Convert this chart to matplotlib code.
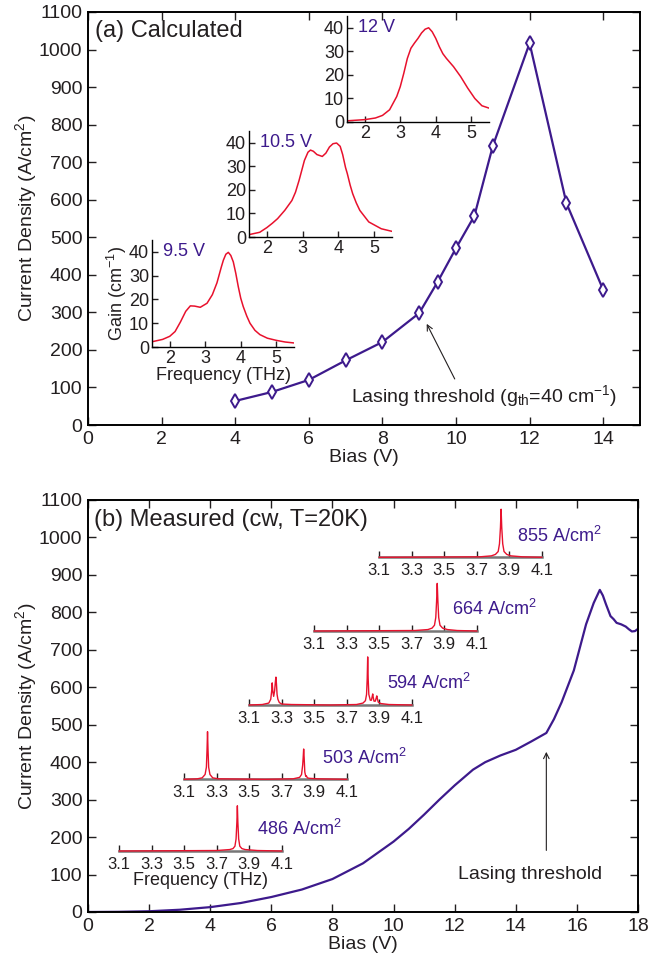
import numpy as np
import matplotlib
matplotlib.use("Agg")
from matplotlib import pyplot as plt

plt.rcParams['font.family'] = ['Liberation Sans', 'DejaVu Sans']
plt.rcParams['mathtext.default'] = 'regular'
plt.rcParams['text.color'] = '#231f20'
plt.rcParams['axes.labelcolor'] = '#231f20'
plt.rcParams['xtick.color'] = '#231f20'
plt.rcParams['ytick.color'] = '#231f20'

PURPLE = '#3d1a8c'
RED = '#e8112d'

# ---------- (a) calculated ----------
calc_bias = [4, 5, 6, 7, 8, 9, 9.5, 10, 10.5, 11, 12, 13, 14]
calc_J = [64, 88, 120, 172, 221, 298, 381, 471, 557, 743, 1017, 591, 360]

# gain spectra (THz, cm^-1)
g95_f = [1.5, 1.8, 2.0, 2.15, 2.3, 2.45, 2.58, 2.7, 2.86, 3.05, 3.2, 3.33, 3.45, 3.51, 3.58, 3.65, 3.72, 3.79, 3.86, 3.93, 4.0, 4.07, 4.17, 4.26, 4.4, 4.54, 4.75, 5.0, 5.25, 5.5]
g95_g = [2.2, 3.2, 4.5, 6.5, 10.5, 15.0, 17.3, 17.2, 16.7, 18.4, 22.0, 27.0, 33.5, 36.5, 39.0, 39.8, 38.5, 35.8, 31.0, 25.4, 20.5, 17.0, 13.0, 10.0, 7.0, 5.2, 3.7, 2.8, 2.1, 1.7]

g105_f = [1.5, 1.8, 2.0, 2.15, 2.3, 2.5, 2.7, 2.8, 2.9, 3.05, 3.15, 3.22, 3.3, 3.4, 3.55, 3.65, 3.75, 3.85, 3.95, 4.05, 4.12, 4.2, 4.25, 4.33, 4.4, 4.5, 4.6, 4.85, 5.2, 5.5]
g105_g = [1.0, 2.0, 4.0, 5.8, 7.8, 11.3, 15.5, 19.0, 24.0, 32.5, 36.0, 36.9, 36.4, 35.0, 34.2, 35.6, 38.2, 39.6, 39.9, 38.5, 35.0, 29.5, 26.9, 22.0, 18.4, 14.5, 11.3, 6.4, 3.5, 2.4]

g12_f = [1.5, 2.0, 2.3, 2.5, 2.7, 2.9, 3.0, 3.1, 3.2, 3.3, 3.4, 3.5, 3.6, 3.7, 3.8, 3.9, 4.0, 4.1, 4.2, 4.3, 4.5, 4.7, 4.9, 5.1, 5.3, 5.5]
g12_g = [0.5, 1.0, 1.7, 2.8, 5.2, 10.8, 15.0, 20.7, 27.0, 31.3, 33.5, 35.5, 37.8, 39.4, 40.0, 38.3, 35.5, 32.0, 29.0, 27.0, 23.5, 19.3, 14.4, 10.0, 6.9, 5.9]

# ---------- (b) measured ----------
meas_bias = [0, 1, 2, 3, 4, 5, 6, 7, 8, 9, 10, 10.5, 11, 11.5, 12, 12.6, 13, 13.5, 14, 14.5, 15.0,
             15.25, 15.5, 15.9, 16.3, 16.55, 16.75, 16.85, 16.95, 17.1, 17.2, 17.3, 17.45, 17.6, 17.7, 17.8, 17.9, 18.0]
meas_J = [0, 0.5, 2, 6, 13, 24, 40, 60, 88, 130, 188, 222, 260, 300, 338, 380, 400, 418, 433, 455, 478,
          515, 560, 645, 768, 825, 860, 845, 822, 790, 782, 772, 768, 762, 755, 749, 750, 756]

# lasing spectra (THz, normalised intensity)
s486_f = [3.10, 3.70, 3.78, 3.80, 3.812, 3.819, 3.824, 3.827, 3.830, 3.835, 3.842, 3.855, 3.875, 3.95, 4.10]
s486_a = [0.00, 0.01, 0.03, 0.05, 0.10, 0.25, 0.60, 0.94, 0.60, 0.25, 0.10, 0.05, 0.03, 0.01, 0.00]

s503_f = [3.10, 3.18, 3.21, 3.228, 3.236, 3.240, 3.243, 3.246, 3.250, 3.258, 3.275, 3.31, 3.60, 3.77,
          3.81, 3.822, 3.829, 3.832, 3.835, 3.838, 3.842, 3.848, 3.852, 3.858, 3.87, 3.92, 4.10]
s503_a = [0.00, 0.01, 0.03, 0.10, 0.25, 0.62, 0.99, 0.62, 0.25, 0.10, 0.03, 0.01, 0.00, 0.01,
          0.04, 0.10, 0.30, 0.45, 0.63, 0.45, 0.15, 0.06, 0.07, 0.03, 0.02, 0.01, 0.00]

s594_f = [3.10, 3.18, 3.22, 3.232, 3.238, 3.241, 3.245, 3.250, 3.256, 3.261, 3.264, 3.267, 3.271, 3.276, 3.285, 3.30, 3.36, 3.60,
          3.76, 3.80, 3.815, 3.822, 3.826, 3.829, 3.832, 3.836, 3.845, 3.852, 3.857, 3.860, 3.863, 3.868, 3.876, 3.882, 3.885, 3.888,
          3.894, 3.91, 3.96, 4.10]
s594_a = [0.00, 0.01, 0.04, 0.12, 0.30, 0.46, 0.28, 0.18, 0.30, 0.50, 0.58, 0.45, 0.22, 0.12, 0.05, 0.02, 0.01, 0.00,
          0.01, 0.04, 0.09, 0.22, 0.55, 1.00, 0.55, 0.22, 0.10, 0.10, 0.18, 0.23, 0.16, 0.08, 0.08, 0.15, 0.19, 0.14,
          0.06, 0.03, 0.01, 0.00]

s664_f = [3.10, 3.72, 3.80, 3.825, 3.840, 3.848, 3.853, 3.857, 3.861, 3.866, 3.874, 3.89, 3.92, 3.98, 4.10]
s664_a = [0.00, 0.01, 0.03, 0.06, 0.12, 0.28, 0.62, 0.99, 0.62, 0.28, 0.12, 0.06, 0.03, 0.01, 0.00]

s855_f = [3.10, 3.72, 3.79, 3.815, 3.832, 3.840, 3.846, 3.850, 3.854, 3.860, 3.868, 3.885, 3.91, 3.98, 4.10]
s855_a = [0.00, 0.01, 0.03, 0.06, 0.12, 0.28, 0.62, 1.00, 0.62, 0.28, 0.12, 0.06, 0.03, 0.01, 0.00]

spectra = [(s486_f, s486_a, '486', 119.3, 851.0),
           (s503_f, s503_a, '503', 184.3, 779.3),
           (s594_f, s594_a, '594', 249.3, 705.0),
           (s664_f, s664_a, '664', 314.3, 631.0),
           (s855_f, s855_a, '855', 379.3, 557.3)]

W, H = 669, 961
fig = plt.figure(figsize=(W / 100, H / 100), dpi=100)


def px_axes(left, top, right, bottom):
    return fig.add_axes([left / W, 1 - bottom / H, (right - left) / W, (bottom - top) / H])


def style_main(ax):
    for s in ax.spines.values():
        s.set_linewidth(1.4)
    ax.tick_params(direction='in', top=True, right=True, length=6, width=1, labelsize=14, pad=4)


# ----- top panel -----
ax1 = px_axes(88, 12, 640, 425)
ax1.plot(calc_bias, calc_J, color=PURPLE, lw=1.6, marker='d', ms=7, mfc='white', mec=PURPLE, mew=1.4)
ax1.set_xlim(0, 15)
ax1.set_ylim(0, 1100)
ax1.set_xticks(range(0, 15, 2))
ax1.set_yticks(range(0, 1101, 100))
style_main(ax1)
ax1.set_xlabel('Bias (V)', fontsize=14, labelpad=1)
ax1.set_ylabel('Current Density (A/cm$^2$)', fontsize=14, labelpad=0)
ax1.text(0.012, 0.955, '(a) Calculated', transform=ax1.transAxes, fontsize=17, va='center', ha='left')
ax1.annotate('', xy=(9.17, 276), xytext=(10.0, 116),
             arrowprops=dict(arrowstyle='->', color='#231f20', lw=0.8))
ax1.text(10.77, 76, 'Lasing threshold (g$_{th}$=40 cm$^{-1}$)', fontsize=14, ha='center', va='center')

insets = [(g95_f, g95_g, '9.5 V', (152, 240, 294, 347)),
          (g105_f, g105_g, '10.5 V', (249, 131, 392, 237)),
          (g12_f, g12_g, '12 V', (347, 16, 489, 122))]
for i, (f, g, lab, box) in enumerate(insets):
    ia = px_axes(*box)
    ia.plot(f, g, color=RED, lw=1.1)
    ia.set_xlim(1.5, 5.5)
    ia.set_ylim(0, 45)
    ia.set_xticks([2, 3, 4, 5])
    ia.set_yticks([0, 10, 20, 30, 40])
    ia.spines['top'].set_visible(False)
    ia.spines['right'].set_visible(False)
    for s in ('left', 'bottom'):
        ia.spines[s].set_linewidth(1.0)
    ia.tick_params(direction='in', length=4, width=1, labelsize=13, pad=2)
    ia.patch.set_alpha(0)
    ia.text(1.8, 40, lab, color=PURPLE, fontsize=13, va='center', ha='left')
    if i == 0:
        ia.set_xlabel('Frequency (THz)', fontsize=13, labelpad=0)
        ia.set_ylabel('Gain (cm$^{-1}$)', fontsize=13, labelpad=0)

# ----- bottom panel -----
ax2 = px_axes(88, 500, 638, 912)
ax2.plot(meas_bias, meas_J, color=PURPLE, lw=1.6)
ax2.set_xlim(0, 18)
ax2.set_ylim(0, 1100)
ax2.set_xticks(range(0, 19, 2))
ax2.set_yticks(range(0, 1101, 100))
style_main(ax2)
ax2.set_xlabel('Bias (V)', fontsize=14, labelpad=1)
ax2.set_ylabel('Current Density (A/cm$^2$)', fontsize=14, labelpad=0)
ax2.text(0.01, 0.951, '(b) Measured (cw, T=20K)', transform=ax2.transAxes, fontsize=17, va='center', ha='left')
ax2.annotate('', xy=(15.0, 435), xytext=(15.0, 157),
             arrowprops=dict(arrowstyle='->', color='#231f20', lw=0.8))
ax2.text(14.48, 99, 'Lasing threshold', fontsize=14, ha='center', va='center')

for i, (f, a, lab, left, base) in enumerate(spectra):
    sa = px_axes(left, base - 50, left + 162.4, base)
    sa.plot(f, a, color=RED, lw=1.0, clip_on=False, zorder=5)
    sa.set_xlim(3.1, 4.1)
    sa.set_ylim(0, 1.04)
    sa.set_xticks([3.1, 3.3, 3.5, 3.7, 3.9, 4.1])
    sa.set_xticklabels(['3.1', '3.3', '3.5', '3.7', '3.9', '4.1'])
    sa.set_yticks([])
    for s in ('top', 'right', 'left'):
        sa.spines[s].set_visible(False)
    sa.spines['bottom'].set_color('#777777')
    sa.spines['bottom'].set_linewidth(1.8)
    sa.tick_params(axis='x', direction='in', length=4, width=1, color='#231f20', labelsize=12, pad=4)
    sa.patch.set_alpha(0)
    sa.text(3.95, 0.45, lab + ' A/cm$^2$', color=PURPLE, fontsize=13, ha='left', va='center')
    if i == 0:
        sa.set_xlabel('Frequency (THz)', fontsize=13, labelpad=0)

fig.savefig('out.png', dpi=100)
